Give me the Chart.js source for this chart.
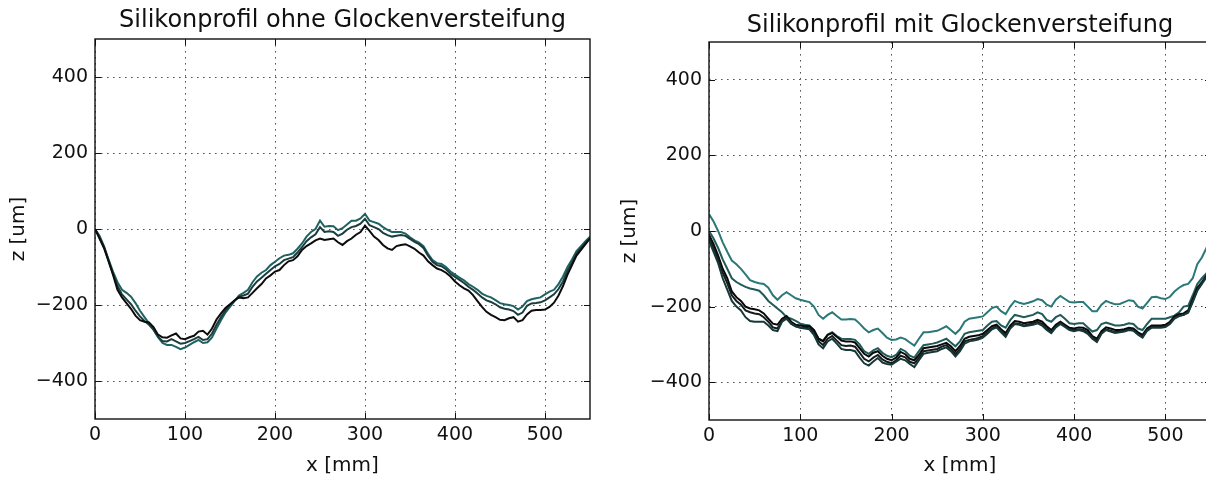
<!DOCTYPE html>
<html>
<head>
<meta charset="utf-8">
<script src="https://cdn.jsdelivr.net/npm/chart.js@4.4.1/dist/chart.umd.min.js"></script>
<style>
  html, body { margin: 0; padding: 0; background: #fff; overflow: hidden; }
  body { width: 1206px; height: 481px; position: relative; }
  .panel { position: absolute; top: 0; height: 481px; }
  #left { left: 0; width: 603px; }
  #right { left: 603px; width: 620px; }
</style>
</head>
<body>
<div class="panel" id="left"><canvas id="ohne"></canvas></div>
<div class="panel" id="right"><canvas id="mit"></canvas></div>
<script>
// measuring positions along the profile [mm]
const xMm = [
  0, 5, 10, 15, 20, 25, 30, 35, 40, 45, 50, 55, 60, 65, 70, 75, 80, 85, 90, 95,
  100, 105, 110, 115, 120, 125, 130, 135, 140, 145, 150, 155, 160, 165, 170, 175, 180, 185, 190, 195,
  200, 205, 210, 215, 220, 225, 230, 235, 240, 245, 250, 255, 260, 265, 270, 275, 280, 285, 290, 295,
  300, 305, 310, 315, 320, 325, 330, 335, 340, 345, 350, 355, 360, 365, 370, 375, 380, 385, 390, 395,
  400, 405, 410, 415, 420, 425, 430, 435, 440, 445, 450, 455, 460, 465, 470, 475, 480, 485, 490, 495,
  500, 505, 510, 515, 520, 525, 530, 535, 540, 545, 550
];

// ohne Glockenversteifung, z [um]
const ohne1 = [
  0, -25, -50, -85, -120, -160, -180, -195, -210, -228,
  -240, -244, -246, -258, -278, -285, -286, -280, -275, -288,
  -290, -285, -281, -270, -268, -278, -262, -238, -222, -208,
  -198, -188, -180, -182, -180, -168, -156, -145, -130, -122,
  -112, -108, -95, -85, -82, -72, -55, -45, -38, -30,
  -25, -29, -27, -25, -35, -42, -32, -25, -15, -8,
  9, -5, -20, -29, -42, -51, -55, -45, -42, -40,
  -46, -52, -62, -70, -85, -95, -104, -108, -115, -125,
  -138, -148, -156, -162, -174, -190, -205, -218, -226, -232,
  -239, -240, -235, -232, -244, -240, -225, -215, -213, -213,
  -212, -205, -194, -175, -150, -120, -95, -70, -55, -40,
  -25
];
const ohne2 = [
  0, -22, -48, -82, -118, -150, -172, -185, -198, -215,
  -230, -242, -252, -265, -283, -295, -296, -290, -296, -302,
  -300, -295, -290, -284, -292, -290, -275, -252, -232, -215,
  -200, -188, -178, -175, -170, -152, -138, -128, -118, -108,
  -98, -92, -82, -78, -74, -62, -48, -32, -22, -14,
  5, -8, -6, -8, -18, -12, -2, 5, 8, 14,
  27, 10, 5, 0, -10, -16, -20, -18, -16, -18,
  -26, -34, -40, -50, -70, -86, -95, -98, -106, -118,
  -126, -134, -142, -152, -160, -170, -180, -188, -192, -198,
  -206, -210, -212, -216, -226, -220, -202, -196, -195, -193,
  -188, -180, -172, -158, -138, -110, -88, -64, -50, -36,
  -24
];
const ohne3 = [
  0, -18, -45, -80, -112, -140, -160, -168, -178, -195,
  -215, -232, -248, -265, -285, -300, -305, -305, -310, -316,
  -312, -305, -298, -292, -300, -298, -285, -262, -240, -220,
  -205, -190, -175, -168, -160, -140, -125, -115, -108, -95,
  -86, -77, -70, -68, -64, -52, -38, -20, -8, 0,
  22, 6, 8, 7, -3, 2, 12, 22, 22, 28,
  40, 22, 18, 14, 5, -2, -8, -8, -8, -12,
  -22, -30, -36, -45, -65, -82, -90, -92, -100, -112,
  -120, -128, -135, -145, -152, -160, -170, -176, -180, -187,
  -195, -198, -200, -203, -212, -204, -190, -185, -182, -180,
  -172, -165, -160, -145, -125, -100, -80, -58, -45, -32,
  -20
];

// mit Glockenversteifung, z [um]
const mit1 = [
  45, 25, 0, -30, -55, -78, -88, -100, -115, -130,
  -135, -138, -140, -150, -170, -182, -170, -162, -170, -178,
  -182, -185, -188, -200, -222, -232, -222, -215, -225, -234,
  -234, -233, -234, -245, -258, -268, -262, -258, -270, -282,
  -288, -287, -282, -286, -295, -303, -285, -268, -268, -266,
  -264, -258, -252, -262, -272, -260, -240, -232, -230, -228,
  -226, -215, -204, -200, -212, -220, -200, -185, -190, -193,
  -190, -186, -180, -183, -195, -200, -182, -172, -180, -188,
  -189, -188, -188, -200, -212, -212, -195, -185, -190, -194,
  -193, -188, -183, -185, -200, -205, -190, -175, -174, -178,
  -180, -174, -160, -150, -143, -140, -125, -88, -70, -45,
  -25
];
const mit2 = [
  0, -20, -45, -75, -100, -125, -135, -142, -148, -152,
  -155, -158, -170, -185, -195, -205, -215, -228, -232, -238,
  -245, -248, -250, -262, -285, -290, -274, -268, -278, -285,
  -286, -286, -288, -300, -318, -325, -316, -310, -322, -330,
  -334, -328, -312, -318, -330, -335, -318, -302, -300, -298,
  -295, -290, -285, -295, -305, -292, -272, -268, -266, -264,
  -262, -250, -240, -238, -250, -256, -236, -222, -225, -228,
  -225, -222, -215, -220, -235, -240, -228, -222, -232, -244,
  -246, -244, -244, -255, -266, -262, -246, -242, -246, -250,
  -250, -248, -244, -246, -258, -262, -246, -232, -232, -232,
  -232, -228, -224, -215, -200, -198, -170, -140, -125, -112,
  -90
];
const mit3 = [
  -10, -35, -65, -100, -125, -160, -175, -185, -200, -205,
  -207, -210, -218, -232, -245, -248, -232, -225, -240, -248,
  -250, -252, -252, -262, -285, -292, -275, -270, -280, -290,
  -292, -292, -295, -310, -325, -332, -322, -318, -330, -338,
  -342, -335, -320, -326, -338, -342, -328, -310, -308, -306,
  -304, -300, -296, -305, -318, -304, -285, -280, -278, -276,
  -272, -262, -252, -248, -260, -270, -250, -238, -240, -244,
  -242, -240, -235, -240, -252, -262, -248, -240, -248, -256,
  -258, -255, -256, -262, -278, -285, -265, -255, -258, -262,
  -262, -260, -256, -258, -268, -275, -258, -250, -250, -250,
  -248, -240, -226, -220, -218, -210, -180, -150, -135, -118,
  -100
];
const mit4 = [
  -18, -45, -75, -110, -138, -170, -185, -195, -210, -215,
  -218, -220, -228, -240, -255, -258, -238, -230, -245, -252,
  -255, -256, -257, -268, -292, -302, -285, -278, -290, -302,
  -304, -303, -306, -322, -338, -345, -335, -328, -340, -346,
  -350, -342, -330, -334, -346, -350, -336, -318, -316, -314,
  -312, -306, -302, -312, -326, -312, -292, -288, -286, -283,
  -278, -268, -258, -252, -265, -276, -255, -244, -246, -250,
  -247, -244, -240, -246, -258, -268, -252, -244, -252, -260,
  -262, -260, -262, -268, -282, -290, -270, -260, -264, -268,
  -266, -264, -260, -262, -272, -280, -262, -254, -254, -254,
  -252, -244, -230, -224, -222, -214, -185, -155, -138, -120,
  -102
];
const mit5 = [
  -25, -55, -85, -125, -155, -185, -200, -210, -228, -238,
  -240, -240, -240, -250, -262, -265, -240, -232, -245, -252,
  -256, -258, -260, -275, -300, -310, -292, -285, -298, -312,
  -315, -315, -318, -335, -350, -356, -345, -336, -348, -352,
  -354, -346, -338, -342, -352, -360, -342, -325, -322, -320,
  -318, -312, -308, -318, -332, -318, -298, -292, -290, -287,
  -282, -272, -260, -255, -268, -280, -258, -246, -248, -252,
  -250, -248, -244, -250, -262, -270, -255, -246, -254, -262,
  -265, -262, -265, -272, -285, -294, -272, -262, -266, -270,
  -268, -266, -262, -264, -274, -282, -264, -256, -256, -256,
  -254, -246, -232, -225, -222, -216, -188, -158, -140, -122,
  -104
];

const xTicks = [0, 100, 200, 300, 400, 500];
const zTicks = [-400, -200, 0, 200, 400];

const FONT = "'DejaVu Sans', sans-serif";

function toPoints(z) {
  return z.map((v, i) => ({ x: xMm[i], y: v }));
}

// matplotlib style: real minus sign on the tick labels
function fmt(v) {
  return String(v).replace('-', '\u2212');
}

// box around the axes, inward ticks on all four sides, and the title on top
const axesFrame = {
  id: 'axesFrame',
  afterDatasetsDraw(chart, args, opts) {
    const { ctx, chartArea: a, scales } = chart;
    ctx.save();
    ctx.strokeStyle = '#111';
    ctx.lineWidth = 1;
    ctx.beginPath();
    xTicks.forEach(v => {
      const px = Math.round(scales.x.getPixelForValue(v)) + 0.5;
      ctx.moveTo(px, a.bottom); ctx.lineTo(px, a.bottom - 6);
      ctx.moveTo(px, a.top); ctx.lineTo(px, a.top + 6);
    });
    zTicks.forEach(v => {
      const py = Math.round(scales.y.getPixelForValue(v)) + 0.5;
      ctx.moveTo(a.left, py); ctx.lineTo(a.left + 6, py);
      ctx.moveTo(a.right, py); ctx.lineTo(a.right - 6, py);
    });
    ctx.stroke();
    ctx.lineWidth = 1.4;
    ctx.strokeRect(a.left, a.top, a.right - a.left, a.bottom - a.top);
    ctx.restore();
  },
  afterDraw(chart, args, opts) {
    const { ctx, chartArea: a } = chart;
    ctx.save();
    ctx.fillStyle = '#111';
    ctx.font = '24px ' + FONT;
    ctx.textAlign = 'center';
    ctx.textBaseline = 'middle';
    ctx.fillText(opts.title, (a.left + a.right) / 2, opts.titleY);
    ctx.restore();
  }
};

function makePanel(id, title, series, box) {
  const H = 481;
  return new Chart(document.getElementById(id), {
    type: 'line',
    data: {
      datasets: series.map(s => ({
        data: toPoints(s.z),
        borderColor: s.color,
        borderWidth: 2,
        pointRadius: 0,
        tension: 0,
        fill: false
      }))
    },
    options: {
      responsive: true,
      maintainAspectRatio: false,
      animation: false,
      events: [],
      layout: { padding: { top: box.top, right: box.right, left: 0, bottom: 0 } },
      plugins: {
        legend: { display: false },
        tooltip: { enabled: false },
        axesFrame: { title: title, titleY: box.titleY }
      },
      scales: {
        x: {
          type: 'linear',
          min: 0,
          max: 550,
          afterFit: s => { s.height = H - box.bottom; },
          afterBuildTicks: s => { s.ticks = xTicks.map(v => ({ value: v })); },
          grid: { color: '#555', lineWidth: 1, drawTicks: false },
          border: { display: false, dash: [1.6, 4.4] },
          ticks: {
            color: '#111', padding: 5, maxRotation: 0, autoSkip: false,
            font: { family: FONT, size: 19 },
            callback: v => fmt(v)
          },
          title: {
            display: true, text: 'x [mm]', color: '#111',
            font: { family: FONT, size: 20 }, padding: { top: 0, bottom: 3 }
          }
        },
        y: {
          type: 'linear',
          min: -500,
          max: 500,
          afterFit: s => { s.width = box.left; },
          afterBuildTicks: s => { s.ticks = zTicks.map(v => ({ value: v })); },
          grid: { color: '#555', lineWidth: 1, drawTicks: false },
          border: { display: false, dash: [1.6, 4.4] },
          ticks: {
            color: '#111', padding: 7, autoSkip: false,
            font: { family: FONT, size: 19 },
            callback: v => fmt(v)
          },
          title: {
            display: true, text: 'z [um]', color: '#111',
            font: { family: FONT, size: 20 }, padding: { top: box.zPad, bottom: 0 }
          }
        }
      }
    },
    plugins: [axesFrame]
  });
}

makePanel('ohne', 'Silikonprofil ohne Glockenversteifung', [
  { z: ohne1, color: '#0c0c0c' },
  { z: ohne2, color: '#1d3d3d' },
  { z: ohne3, color: '#1f6262' }
], { left: 95, top: 39, bottom: 419, right: 13, titleY: 21, zPad: 7 });

makePanel('mit', 'Silikonprofil mit Glockenversteifung', [
  { z: mit5, color: '#173838' },
  { z: mit4, color: '#141c1c' },
  { z: mit3, color: '#080808' },
  { z: mit2, color: '#205a5a' },
  { z: mit1, color: '#2a7878' }
], { left: 106, top: 42, bottom: 420, right: 12, titleY: 26, zPad: 15 });
</script>
</body>
</html>
